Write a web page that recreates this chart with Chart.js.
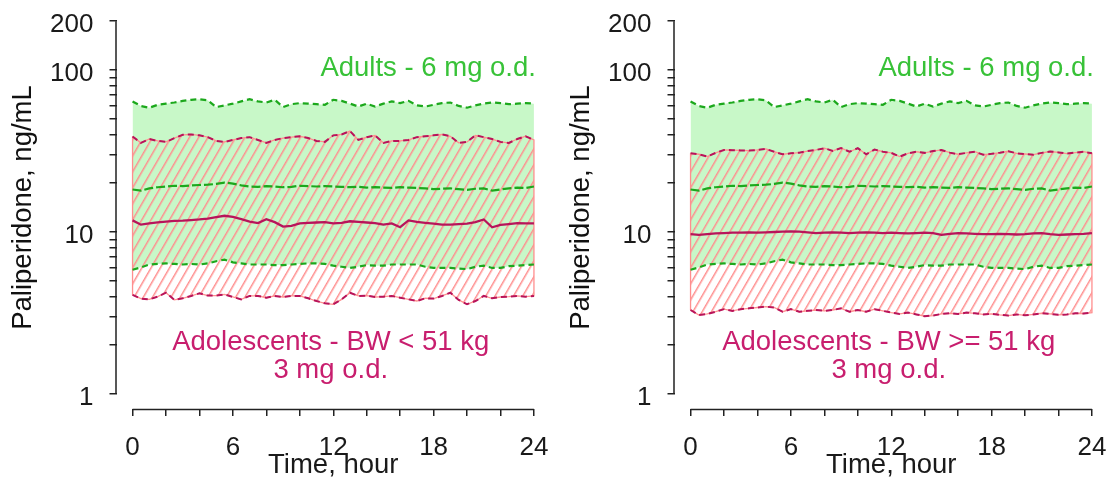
<!DOCTYPE html>
<html>
<head>
<meta charset="utf-8">
<script src="https://cdn.jsdelivr.net/npm/chart.js@4"></script>
<style>
  body { margin: 0; background: #fff; }
  #wrap { position: relative; width: 1110px; height: 482px; overflow: hidden; }
  #c1 { position: absolute; left: 0; top: 0; }
  #c2 { position: absolute; left: 558px; top: 0; }
</style>
</head>
<body>
<div id="wrap">
  <canvas id="c1" width="555" height="482"></canvas>
  <canvas id="c2" width="552" height="482"></canvas>
</div>
<script>
// time grid, hours
var hours = [0, 0.5, 1, 1.5, 2, 2.5, 3, 3.5, 4, 4.5, 5, 5.5, 6, 6.5, 7, 7.5, 8, 8.5, 9, 9.5,
  10, 10.5, 11, 11.5, 12, 12.5, 13, 13.5, 14, 14.5, 15, 15.5, 16, 16.5, 17, 17.5, 18, 18.5, 19, 19.5,
  20, 20.5, 21, 21.5, 22, 22.5, 23, 23.5, 24];

// adults 6 mg o.d. (same in both panels): 95th, median, 5th percentile
var adultP95 = [64, 60, 58.5, 61, 62, 63, 64.5, 65.5, 66, 65, 59, 60.5, 62, 64, 66, 64, 63, 65.5, 59, 61.5,
  62.5, 62, 61.5, 61, 65.5, 64.5, 62, 59.5, 62, 59.5, 62, 64, 62.5, 64.5, 60.5, 59.5, 61, 62.5, 63, 60,
  58.5, 60.5, 62, 63, 62.5, 61.5, 62, 62.5, 62];
var adultP50 = [18.3, 18.0, 18.6, 18.9, 19.1, 19.3, 19.2, 19.4, 19.5, 19.6, 19.8, 20.2, 19.9, 19.4, 19.1, 19.0, 19.2, 19.1, 18.9, 19.0,
  19.3, 19.2, 19.1, 19.2, 19.1, 19.0, 18.9, 19.0, 18.8, 18.9, 18.8, 18.7, 18.9, 18.8, 18.7, 18.6, 18.4, 18.5, 18.6, 18.4,
  18.2, 18.5, 18.6, 18.0, 18.3, 18.6, 18.8, 18.7, 19.1];
var adultP05 = [5.85, 6.05, 6.3, 6.35, 6.4, 6.35, 6.3, 6.35, 6.3, 6.4, 6.6, 6.75, 6.5, 6.4, 6.3, 6.3, 6.3, 6.25, 6.25, 6.3,
  6.35, 6.4, 6.4, 6.35, 6.2, 6.1, 6.0, 6.1, 6.25, 6.2, 6.2, 6.3, 6.3, 6.3, 6.3, 6.1, 6.0, 6.0, 6.0, 5.95,
  5.9, 6.1, 6.2, 6.0, 6.0, 6.15, 6.2, 6.25, 6.3];

// adolescents BW < 51 kg, 3 mg o.d.
var lightP95 = [38.9, 35.5, 37.5, 36.5, 36, 38, 39.8, 40, 39.5, 38.5, 36.5, 36, 37, 38, 38.5, 37, 35.5, 37, 38, 38.5,
  39, 38, 36.5, 36, 39.5, 40, 42, 37, 38.5, 39.5, 35.5, 36.5, 36.5, 37, 38.5, 39, 39.5, 40, 39, 35.5,
  36, 39.5, 38.5, 37.5, 36, 35.5, 37.5, 39, 37];
var lightP50 = [11.8, 11.1, 11.3, 11.45, 11.6, 11.7, 11.75, 11.85, 11.95, 12.1, 12.35, 12.6, 12.4, 12.0, 11.6, 11.35, 12.0, 11.5, 10.8, 10.9,
  11.3, 11.4, 11.45, 11.5, 11.3, 11.4, 11.65, 11.55, 11.45, 11.35, 11.1, 11.3, 10.7, 11.8, 11.55, 11.4, 11.25, 11.1, 11.1, 11.2,
  11.25, 11.5, 11.95, 10.7, 11.05, 11.2, 11.35, 11.3, 11.3];
var lightP05 = [4.09, 3.88, 3.84, 3.99, 4.22, 3.81, 3.90, 4.03, 4.18, 4.05, 4.05, 4.12, 3.97, 3.84, 4.03, 4.03, 3.93, 4.03, 3.97, 4.03,
  4.03, 3.90, 3.75, 3.63, 3.58, 3.84, 4.22, 4.03, 4.05, 3.97, 3.99, 4.03, 3.93, 3.84, 3.75, 3.90, 3.88, 4.03, 4.22, 3.81,
  3.58, 3.75, 4.03, 3.90, 3.97, 3.99, 4.03, 3.99, 4.03];

// adolescents BW >= 51 kg, 3 mg o.d.
var heavyP95 = [30.6, 30.2, 29.2, 30.8, 32.1, 32.0, 31.9, 31.8, 32.1, 32.6, 31.3, 30.2, 30.6, 30.9, 31.6, 32.1, 32.9, 31.7, 33.0, 31.3,
  32.9, 30.2, 32.3, 31.3, 30.8, 29.2, 30.6, 31.3, 30.8, 31.6, 32.1, 30.9, 30.2, 30.8, 31.3, 30.0, 30.4, 30.9, 31.5, 30.6,
  30.3, 30.0, 30.8, 31.4, 31.0, 30.5, 30.9, 31.3, 30.6];
var heavyP50 = [9.7, 9.6, 9.7, 9.8, 9.85, 9.9, 9.9, 9.95, 9.9, 9.95, 10.0, 10.05, 10.1, 10.05, 9.95, 9.85, 9.9, 9.95, 9.9, 9.85,
  9.9, 9.95, 9.9, 9.85, 9.9, 9.85, 9.8, 9.85, 9.9, 9.85, 9.6, 9.75, 9.85, 9.8, 9.75, 9.7, 9.7, 9.75, 9.7, 9.65,
  9.7, 9.8, 9.85, 9.7, 9.6, 9.65, 9.7, 9.75, 9.85];
var heavyP05 = [3.30, 3.07, 3.12, 3.22, 3.34, 3.26, 3.34, 3.38, 3.42, 3.46, 3.42, 3.22, 3.34, 3.22, 3.26, 3.30, 3.26, 3.30, 3.38, 3.22,
  3.30, 3.22, 3.34, 3.26, 3.18, 3.12, 3.18, 3.10, 3.02, 3.05, 3.12, 3.15, 3.12, 3.18, 3.15, 3.10, 3.12, 3.08, 3.05, 3.10,
  3.06, 3.10, 3.15, 3.12, 3.08, 3.10, 3.15, 3.14, 3.18];

// axes
var xTicks = [0, 2, 4, 6, 8, 10, 12, 14, 16, 18, 20, 22, 24];
var xLabels = [0, 6, 12, 18, 24];
var yTicks = [1, 2, 3, 4, 5, 6, 7, 8, 9, 10, 20, 30, 40, 50, 60, 70, 80, 90, 100, 200];
var yLabels = [1, 10, 100, 200];

var FONT = '"Liberation Sans", Arial, sans-serif';
var GREEN_LINE = '#1ca81c';
var GREEN_TEXT = '#38c238';
var GREEN_FILL = '#c8f8c8';
var RED_LINE = '#b8145a';
var RED_TEXT = '#c81e6e';
var SALMON = '#ff8e8e';

// diagonal hatch for the adolescent band
function makeHatch() {
    var tile = document.createElement('canvas');
    tile.width = 8;
    tile.height = 1;
    var t = tile.getContext('2d');
    t.fillStyle = SALMON;
    t.fillRect(0, 0, 1.5, 1);
    var pat = t.createPattern(tile, 'repeat');
    pat.setTransform(new DOMMatrix().rotate(30));
    return pat;
}

function pts(arr) {
    return hours.map(function (h, i) { return { x: h, y: arr[i] }; });
}

var axisLines = {
    id: 'axisLines',
    afterDraw: function (chart) {
        var ctx = chart.ctx, x = chart.scales.x, y = chart.scales.y;
        ctx.save();
        ctx.strokeStyle = '#222';
        ctx.lineWidth = 1.5;
        ctx.beginPath();
        ctx.moveTo(x.getPixelForValue(xTicks[0]), x.top + 0.5);
        ctx.lineTo(x.getPixelForValue(xTicks[xTicks.length - 1]), x.top + 0.5);
        ctx.moveTo(y.right - 0.5, y.getPixelForValue(yTicks[0]));
        ctx.lineTo(y.right - 0.5, y.getPixelForValue(yTicks[yTicks.length - 1]));
        ctx.stroke();
        ctx.restore();
    }
};

var panelText = {
    id: 'panelText',
    afterDatasetsDraw: function (chart, args, opts) {
        var ctx = chart.ctx, x = chart.scales.x;
        ctx.save();
        ctx.font = '27.5px ' + FONT;
        ctx.textBaseline = 'middle';
        ctx.fillStyle = GREEN_TEXT;
        ctx.textAlign = 'right';
        ctx.fillText('Adults - 6 mg o.d.', x.getPixelForValue(24) + 2, 68);
        ctx.fillStyle = RED_TEXT;
        ctx.textAlign = 'center';
        ctx.fillText(opts.group, x.getPixelForValue(11.85), 342);
        ctx.fillText('3 mg o.d.', x.getPixelForValue(11.85), 370);
        ctx.restore();
    }
};

function makePanel(id, p05, p50, p95, group, rightPad) {
    var outline = pts(p95).concat(pts(p05).reverse());
    outline.push({ x: hours[0], y: p95[0] });

    return new Chart(document.getElementById(id).getContext('2d'), {
        type: 'line',
        data: {
            datasets: [
                { label: 'Adolescents median', data: pts(p50), borderColor: RED_LINE, borderWidth: 2.3, fill: false },
                { label: 'Adolescents 5th', data: pts(p05), borderColor: RED_LINE, borderWidth: 2, borderDash: [6, 4], fill: false },
                { label: 'Adolescents 95th', data: pts(p95), borderColor: RED_LINE, borderWidth: 2, borderDash: [6, 4],
                  fill: '-1', backgroundColor: makeHatch() },
                { label: 'Adults median', data: pts(adultP50), borderColor: GREEN_LINE, borderWidth: 2.2, borderDash: [9, 3], fill: false },
                { label: 'Adults 5th', data: pts(adultP05), borderColor: GREEN_LINE, borderWidth: 2.2, borderDash: [6, 4], fill: false },
                { label: 'Adults 95th', data: pts(adultP95), borderColor: GREEN_LINE, borderWidth: 2.2, borderDash: [6, 4],
                  fill: '-1', backgroundColor: GREEN_FILL },
                { label: 'band outline', data: outline, borderColor: SALMON, borderWidth: 1.3, fill: false }
            ]
        },
        options: {
            responsive: false,
            animation: false,
            layout: { padding: { top: 6, right: rightPad, left: 0, bottom: 0 } },
            elements: { point: { radius: 0 }, line: { tension: 0 } },
            plugins: {
                legend: { display: false },
                tooltip: { enabled: false },
                filler: { drawTime: 'beforeDatasetsDraw' },
                panelText: { group: group }
            },
            scales: {
                x: {
                    type: 'linear',
                    position: 'bottom',
                    min: -0.96,
                    max: 24.96,
                    bounds: 'data',
                    afterBuildTicks: function (s) { s.ticks = xTicks.map(function (v) { return { value: v }; }); },
                    afterFit: function (s) { s.height = 73; s.paddingLeft = 0; s.paddingRight = 0; },
                    border: { display: false },
                    grid: { drawOnChartArea: false, drawTicks: true, tickLength: 7, color: '#222', lineWidth: 1.5 },
                    ticks: {
                        autoSkip: false, maxRotation: 0, padding: 16, color: '#1a1a1a',
                        font: { family: FONT, size: 26 },
                        callback: function (v) { return xLabels.indexOf(v) >= 0 ? String(v) : ''; }
                    },
                    title: { display: true, text: 'Time, hour', color: '#1a1a1a', font: { family: FONT, size: 27.5 }, padding: { top: 0, bottom: 0 } }
                },
                y: {
                    type: 'logarithmic',
                    position: 'left',
                    min: 0.808,
                    max: 248.4,
                    bounds: 'data',
                    afterBuildTicks: function (s) { s.ticks = yTicks.map(function (v) { return { value: v }; }); },
                    afterFit: function (s) { s.width = 116.5; s.paddingTop = 0; s.paddingBottom = 0; },
                    border: { display: false },
                    grid: { drawOnChartArea: false, drawTicks: true, tickLength: 7, color: '#222', lineWidth: 1.5 },
                    ticks: {
                        autoSkip: false, padding: 16, labelOffset: 3.5, color: '#1a1a1a',
                        font: { family: FONT, size: 26 },
                        callback: function (v) { return yLabels.indexOf(v) >= 0 ? String(v) : ''; }
                    },
                    title: { display: true, text: 'Paliperidone, ng/mL', color: '#111', font: { family: FONT, size: 27.5 }, padding: { top: 7, bottom: 0 } }
                }
            }
        },
        plugins: [axisLines, panelText]
    });
}

var chart1 = makePanel('c1', lightP05, lightP50, lightP95, 'Adolescents - BW < 51 kg', 5);
var chart2 = makePanel('c2', heavyP05, heavyP50, heavyP95, 'Adolescents - BW >= 51 kg', 2);
</script>
</body>
</html>
